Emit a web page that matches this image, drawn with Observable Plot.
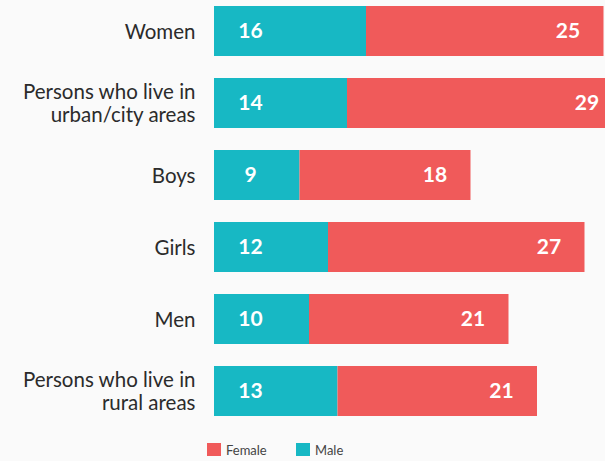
<!DOCTYPE html>
<html>
<head>
<meta charset="utf-8">
<script src="https://cdn.jsdelivr.net/npm/d3@7"></script>
<script src="https://cdn.jsdelivr.net/npm/@observablehq/plot@0.6"></script>
<style>
  html, body { margin: 0; padding: 0; background: #fafafa; overflow: hidden; }
  #chart { width: 605px; height: 461px; position: relative; }
  .legend { position: relative; height: 25px; font-family: Lato, "Open Sans", sans-serif; font-size: 13px; color: #444; }
  .legend .item { position: absolute; top: 7px; display: flex; align-items: center; height: 13px; }
  .legend .sw { width: 14px; height: 13px; margin-right: 5px; }
</style>
</head>
<body>
<div id="chart"></div>
<script>
const categories = [
  "Women",
  "Persons who live in\nurban/city areas",
  "Boys",
  "Girls",
  "Men",
  "Persons who live in\nrural areas"
];
const male = [16, 14, 9, 12, 10, 13];
const female = [25, 29, 18, 27, 21, 21];
const seriesNames = ["Female", "Male"];
const seriesColors = ["#f05a5a", "#17b8c4"];

const rows = [];
categories.forEach((c, i) => rows.push({category: c, group: "Male", value: male[i]}));
categories.forEach((c, i) => rows.push({category: c, group: "Female", value: female[i]}));
const totals = categories.map((c, i) => ({category: c, male: male[i], total: male[i] + female[i], female: female[i]}));

const W = 605, H = 436, ML = 214, MR = 0;
const pxPerUnit = 9.5;

const svg = Plot.plot({
  width: W,
  height: H,
  marginTop: 6,
  marginBottom: 15,
  marginLeft: ML,
  marginRight: MR,
  style: {background: "transparent", overflow: "hidden"},
  x: {domain: [0, (W - ML - MR) / pxPerUnit], axis: null},
  y: {domain: categories, paddingInner: 0.3, paddingOuter: 0, align: 0, axis: null},
  color: {domain: seriesNames, range: seriesColors},
  marks: [
    Plot.barX(rows, Plot.stackX({y: "category", x: "value", fill: "group", order: ["Male", "Female"], clip: true, inset: 0})),
    Plot.text(totals, {x: 0, y: "category", text: d => String(d.male), dx: 36, textAnchor: "middle", fill: "white", fontWeight: "bold", fontSize: 21, fontFamily: "Lato, 'Open Sans', sans-serif"}),
    Plot.text(totals, {x: "total", y: "category", text: d => String(d.female), dx: -36, textAnchor: "middle", fill: "white", fontWeight: "bold", fontSize: 21, fontFamily: "Lato, 'Open Sans', sans-serif"}),
    Plot.text(categories, {x: 0, y: d => d, text: d => d, dx: -19, textAnchor: "end", lineHeight: 1.12, fill: "#2b2b2b", fontSize: 20.5, fontFamily: "Lato, 'Open Sans', sans-serif"})
  ]
});
document.getElementById("chart").appendChild(svg);

const legend = document.createElement("div");
legend.className = "legend";
const legendX = [207, 296];
seriesNames.forEach((name, i) => {
  const item = document.createElement("div");
  item.className = "item";
  item.style.left = legendX[i] + "px";
  const sw = document.createElement("div");
  sw.className = "sw";
  sw.style.background = seriesColors[i];
  const t = document.createElement("span");
  t.textContent = name;
  item.appendChild(sw);
  item.appendChild(t);
  legend.appendChild(item);
});
document.getElementById("chart").appendChild(legend);
</script>
</body>
</html>
